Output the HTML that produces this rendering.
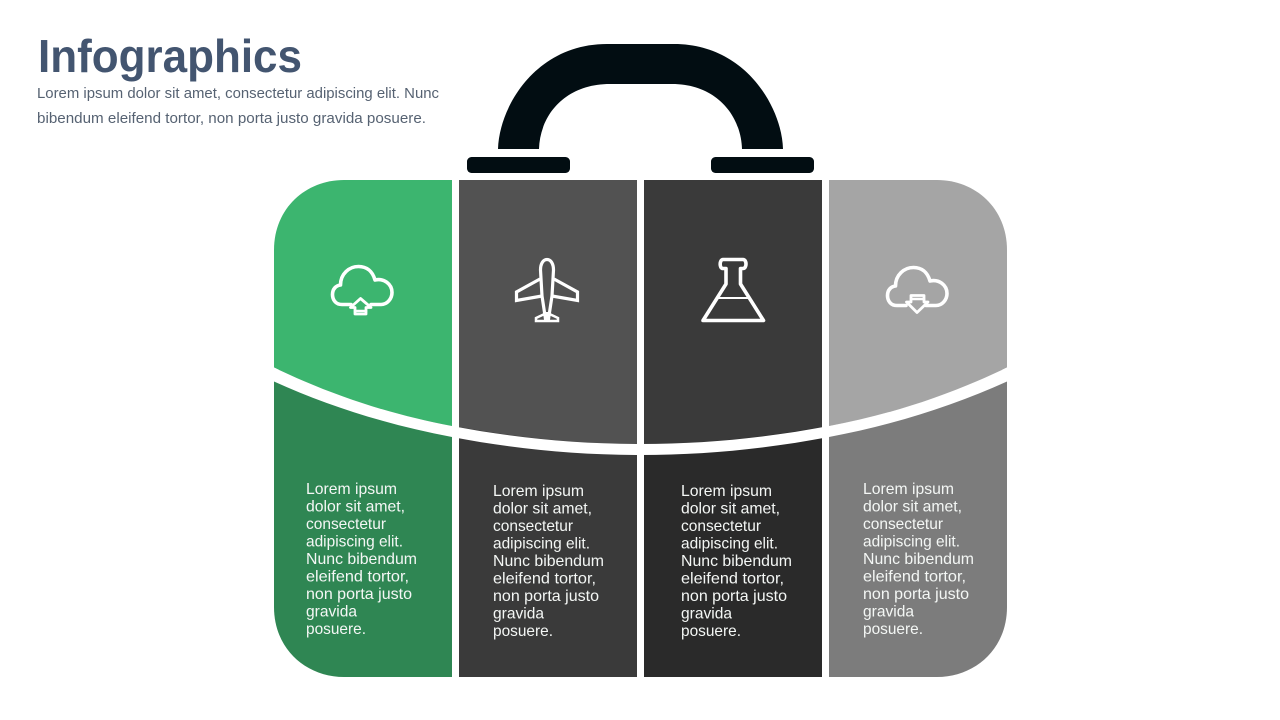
<!DOCTYPE html>
<html lang="en">
<head>
<meta charset="utf-8">
<title>Infographics</title>
<style>
html,body{margin:0;padding:0;background:#fff;width:1280px;height:720px;overflow:hidden}
svg{display:block}
.b text{font-family:"Liberation Sans",sans-serif;font-size:16px;fill:#f4f7f5}
.i{fill:none;stroke:#fff;stroke-width:3.6;stroke-linejoin:round;stroke-linecap:round}
</style>
</head>
<body>
<svg width="1280" height="720" viewBox="0 0 1280 720" xmlns="http://www.w3.org/2000/svg">
<rect width="1280" height="720" fill="#fff"/>

<!-- header -->
<text x="38" y="72" font-family="'Liberation Sans',sans-serif" font-weight="700" font-size="46" fill="#435570" textLength="264" lengthAdjust="spacingAndGlyphs">Infographics</text>
<text x="37" y="98" font-family="'Liberation Sans',sans-serif" font-size="15" fill="#566272" textLength="402" lengthAdjust="spacingAndGlyphs">Lorem ipsum dolor sit amet, consectetur adipiscing elit. Nunc</text>
<text x="37" y="123" font-family="'Liberation Sans',sans-serif" font-size="15" fill="#566272" textLength="389" lengthAdjust="spacingAndGlyphs">bibendum eleifend tortor, non porta justo gravida posuere.</text>

<!-- handle -->
<path fill="#020d12" d="M498 149 C499 108 535 44 607 44 H674 C746 44 782 108 783 149 H742 C741 115 716 84 672 84 H610 C565 84 540 115 539 149 Z"/>
<rect x="467" y="157" width="103" height="16" rx="4.5" fill="#020d12"/>
<rect x="711" y="157" width="103" height="16" rx="4.500" fill="#020d12"/>

<!-- lower panels -->
<path fill="#2f8653" d="M274 370 H452 V677 H344 C306 677 274 649 274 607 Z"/>
<rect x="459" y="420" width="178" height="257" fill="#3a3a3a"/>
<rect x="644" y="420" width="178" height="257" fill="#2a2a2a"/>
<path fill="#7c7c7c" d="M829 370 H1007 V607 C1007 649 975 677 937 677 H829 Z"/>

<!-- upper panels -->
<path fill="#3cb56f" d="M274 367.500 V250 C274 208 306 180 344 180 H452 V426 C388 414 328 394 274 367.500 Z"/>
<path fill="#525252" d="M459 180 H637 V444 C575 444 515 437 459 427 Z"/>
<path fill="#3a3a3a" d="M644 180 H822 V427 C765 437 705 444 644 444 Z"/>
<path fill="#a5a5a5" d="M829 180 H937 C975 180 1007 208 1007 250 V367.500 C953 394 893 414 829 426 Z"/>

<!-- curved white band -->
<path fill="#fff" d="M270 365.500 C328 394 388 414 452 426 C515 438 575 444 640 444 C705 444 765 438 829 426 C893 414 953 394 1011 365.500 V383.500 L1007 381.500 C953 406 893 425 829 437 C765 449 705 455 640 455 C575 455 515 449 452 437 C388 425 328 406 274 381.500 L270 383.500 Z"/>

<!-- cloud upload -->
<g class="i">
<path d="M351 304.500 H342 C335 304.500 332.500 299 332.500 294.500 C332.500 289 336 285.500 340.500 285 C340.500 274 349 266.500 358.500 266.500 C366.500 266.500 372.500 271 375 280 C384 278 392 284 392 292.500 C392 299 387 304.500 381 304.500 H371"/>
<path style="stroke-width:2.800" d="M360.500 298.500 L350.500 307.500 H355 V314 H366 V307.500 H371 Z"/>
<path style="stroke-width:2.500" d="M355 311 H366"/>
</g>

<!-- plane -->
<g class="i" style="stroke-width:3.200;stroke-linejoin:miter;stroke-linecap:butt">
<path d="M547 259.500 C543 259.500 540.500 264 540.500 270 L542 296 L545.500 319 H548.500 L552 296 L553.500 270 C553.500 264 551 259.500 547 259.500 Z"/>
<path d="M540 279 L516.500 292 V300.500 L542 296"/>
<path d="M554 279 L577.500 292 V300.500 L552 296"/>
<path style="stroke-width:2.500" d="M544.500 314 L536 318 V321 H558 V318 L549.500 314"/>
<path d="M547 312 V322"/>
</g>

<!-- flask -->
<g class="i">
<path d="M726 268.500 H723 C719 268.500 719.500 259.500 723 259.500 H743 C747 259.500 747 268.500 743 268.500 H740.500 V284 L763.500 320.500 H703 L726 284 Z"/>
<path style="stroke-width:2" d="M717 298 H749"/>
</g>

<!-- cloud download -->
<g class="i" transform="translate(555 1)">
<path d="M351 304.500 H342 C335 304.500 332.500 299 332.500 294.500 C332.500 289 336 285.500 340.500 285 C340.500 274 349 266.500 358.500 266.500 C366.500 266.500 372.500 271 375 280 C384 278 392 284 392 292.500 C392 299 387 304.500 381 304.500 H371"/>
</g>
<g class="i" style="stroke-width:2.800">
<path d="M917 312.500 L906.500 302 H911 V295.500 H924 V302 H928 Z"/>
<path style="stroke-width:2.500" d="M911 299 H924"/>
</g>

<!-- column 1 -->
<g class="b">
<text x="306" y="494" textLength="91" lengthAdjust="spacingAndGlyphs">Lorem ipsum</text>
<text x="306" y="511.500" textLength="99" lengthAdjust="spacingAndGlyphs">dolor sit amet,</text>
<text x="306" y="529" textLength="80" lengthAdjust="spacingAndGlyphs">consectetur</text>
<text x="306" y="546.500" textLength="97" lengthAdjust="spacingAndGlyphs">adipiscing elit.</text>
<text x="306" y="564" textLength="111" lengthAdjust="spacingAndGlyphs">Nunc bibendum</text>
<text x="306" y="581.500" textLength="103" lengthAdjust="spacingAndGlyphs">eleifend tortor,</text>
<text x="306" y="599" textLength="106" lengthAdjust="spacingAndGlyphs">non porta justo</text>
<text x="306" y="616.500" textLength="51" lengthAdjust="spacingAndGlyphs">gravida</text>
<text x="306" y="634" textLength="60" lengthAdjust="spacingAndGlyphs">posuere.</text>
</g>

<!-- column 2 -->
<g class="b">
<text x="493" y="496" textLength="91" lengthAdjust="spacingAndGlyphs">Lorem ipsum</text>
<text x="493" y="513.500" textLength="99" lengthAdjust="spacingAndGlyphs">dolor sit amet,</text>
<text x="493" y="531" textLength="80" lengthAdjust="spacingAndGlyphs">consectetur</text>
<text x="493" y="548.500" textLength="97" lengthAdjust="spacingAndGlyphs">adipiscing elit.</text>
<text x="493" y="566" textLength="111" lengthAdjust="spacingAndGlyphs">Nunc bibendum</text>
<text x="493" y="583.500" textLength="103" lengthAdjust="spacingAndGlyphs">eleifend tortor,</text>
<text x="493" y="601" textLength="106" lengthAdjust="spacingAndGlyphs">non porta justo</text>
<text x="493" y="618.500" textLength="51" lengthAdjust="spacingAndGlyphs">gravida</text>
<text x="493" y="636" textLength="60" lengthAdjust="spacingAndGlyphs">posuere.</text>
</g>

<!-- column 3 -->
<g class="b">
<text x="681" y="496" textLength="91" lengthAdjust="spacingAndGlyphs">Lorem ipsum</text>
<text x="681" y="513.500" textLength="99" lengthAdjust="spacingAndGlyphs">dolor sit amet,</text>
<text x="681" y="531" textLength="80" lengthAdjust="spacingAndGlyphs">consectetur</text>
<text x="681" y="548.500" textLength="97" lengthAdjust="spacingAndGlyphs">adipiscing elit.</text>
<text x="681" y="566" textLength="111" lengthAdjust="spacingAndGlyphs">Nunc bibendum</text>
<text x="681" y="583.500" textLength="103" lengthAdjust="spacingAndGlyphs">eleifend tortor,</text>
<text x="681" y="601" textLength="106" lengthAdjust="spacingAndGlyphs">non porta justo</text>
<text x="681" y="618.500" textLength="51" lengthAdjust="spacingAndGlyphs">gravida</text>
<text x="681" y="636" textLength="60" lengthAdjust="spacingAndGlyphs">posuere.</text>
</g>

<!-- column 4 -->
<g class="b">
<text x="863" y="494" textLength="91" lengthAdjust="spacingAndGlyphs">Lorem ipsum</text>
<text x="863" y="511.500" textLength="99" lengthAdjust="spacingAndGlyphs">dolor sit amet,</text>
<text x="863" y="529" textLength="80" lengthAdjust="spacingAndGlyphs">consectetur</text>
<text x="863" y="546.500" textLength="97" lengthAdjust="spacingAndGlyphs">adipiscing elit.</text>
<text x="863" y="564" textLength="111" lengthAdjust="spacingAndGlyphs">Nunc bibendum</text>
<text x="863" y="581.500" textLength="103" lengthAdjust="spacingAndGlyphs">eleifend tortor,</text>
<text x="863" y="599" textLength="106" lengthAdjust="spacingAndGlyphs">non porta justo</text>
<text x="863" y="616.500" textLength="51" lengthAdjust="spacingAndGlyphs">gravida</text>
<text x="863" y="634" textLength="60" lengthAdjust="spacingAndGlyphs">posuere.</text>
</g>
</svg>
</body>
</html>
